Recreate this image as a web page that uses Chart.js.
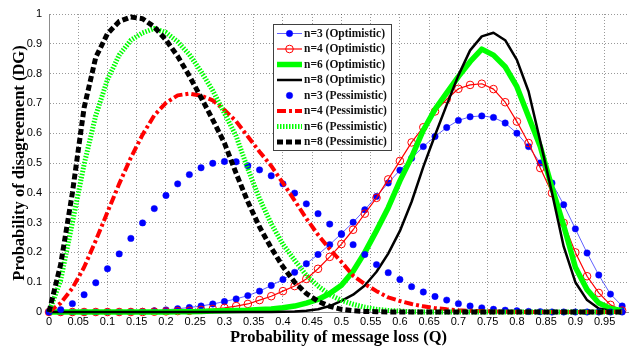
<!DOCTYPE html>
<html>
<head>
<meta charset="utf-8">
<title>Probability of disagreement</title>
<script src="https://cdn.jsdelivr.net/npm/chart.js@4.4.0/dist/chart.umd.min.js"></script>
<style>
  html, body { margin: 0; padding: 0; background: #fff; }
  #wrap { width: 633px; height: 348px; }
</style>
</head>
<body>
<div id="wrap"><canvas id="dgChart" width="633" height="348"></canvas></div>
<script>
// probability of message loss Q (one sample every 0.02)
const qValues = [0, 0.02, 0.04, 0.06, 0.08, 0.1, 0.12, 0.14, 0.16, 0.18,
  0.2, 0.22, 0.24, 0.26, 0.28, 0.3, 0.32, 0.34, 0.36, 0.38,
  0.4, 0.42, 0.44, 0.46, 0.48, 0.5, 0.52, 0.54, 0.56, 0.58,
  0.6, 0.62, 0.64, 0.66, 0.68, 0.7, 0.72, 0.74, 0.76, 0.78,
  0.8, 0.82, 0.84, 0.86, 0.88, 0.9, 0.92, 0.94, 0.96, 0.98];

// optimistic DG values
const optN3 = [0, 0, 0, 0, 0, 0, 0, 0.001, 0.002, 0.004,
  0.007, 0.011, 0.015, 0.02, 0.027, 0.035, 0.044, 0.055, 0.07, 0.089,
  0.109, 0.133, 0.162, 0.193, 0.226, 0.263, 0.301, 0.343, 0.388, 0.433,
  0.476, 0.516, 0.555, 0.589, 0.619, 0.643, 0.655, 0.658, 0.653, 0.634,
  0.6, 0.555, 0.5, 0.433, 0.36, 0.279, 0.198, 0.124, 0.06, 0.02];
const optN4 = [0, 0, 0, 0, 0, 0, 0, 0, 0, 0.001,
  0.002, 0.003, 0.004, 0.007, 0.01, 0.014, 0.02, 0.027, 0.04, 0.053,
  0.07, 0.087, 0.111, 0.145, 0.185, 0.228, 0.276, 0.33, 0.383, 0.445,
  0.507, 0.569, 0.62, 0.673, 0.714, 0.749, 0.762, 0.766, 0.748, 0.704,
  0.639, 0.567, 0.483, 0.399, 0.299, 0.2, 0.12, 0.064, 0.024, 0.005];
const optN6 = [0, 0, 0, 0, 0, 0, 0, 0, 0, 0,
  0, 0.001, 0.001, 0.002, 0.003, 0.004, 0.005, 0.006, 0.008, 0.01,
  0.014, 0.02, 0.03, 0.042, 0.062, 0.09, 0.137, 0.2, 0.273, 0.35,
  0.44, 0.52, 0.61, 0.68, 0.735, 0.79, 0.84, 0.882, 0.862, 0.823,
  0.756, 0.655, 0.555, 0.418, 0.29, 0.15, 0.075, 0.03, 0.012, 0.004];
const optN8 = [0, 0, 0, 0, 0, 0, 0, 0, 0, 0,
  0, 0, 0, 0, 0, 0, 0, 0, 0, 0,
  0.001, 0.002, 0.004, 0.009, 0.02, 0.037, 0.058, 0.089, 0.135, 0.196,
  0.272, 0.37, 0.487, 0.593, 0.695, 0.794, 0.878, 0.925, 0.937, 0.912,
  0.846, 0.74, 0.573, 0.4, 0.22, 0.1, 0.04, 0.012, 0.004, 0.001];

// pessimistic DG values
const pessN3 = [0, 0.008, 0.028, 0.058, 0.098, 0.145, 0.195, 0.247, 0.299, 0.347,
  0.391, 0.43, 0.461, 0.484, 0.499, 0.505, 0.504, 0.491, 0.477, 0.457,
  0.43, 0.399, 0.363, 0.33, 0.295, 0.26, 0.226, 0.193, 0.159, 0.132,
  0.109, 0.085, 0.067, 0.052, 0.04, 0.028, 0.02, 0.014, 0.009, 0.006,
  0.004, 0.002, 0.001, 0, 0, 0, 0, 0, 0, 0];
const pessN4 = [0, 0.03, 0.08, 0.15, 0.24, 0.335, 0.43, 0.518, 0.595, 0.66,
  0.702, 0.727, 0.733, 0.726, 0.71, 0.678, 0.64, 0.589, 0.538, 0.49,
  0.433, 0.374, 0.314, 0.259, 0.211, 0.168, 0.122, 0.094, 0.07, 0.049,
  0.037, 0.027, 0.019, 0.013, 0.009, 0.006, 0.004, 0.003, 0.002, 0.001,
  0, 0, 0, 0, 0, 0, 0, 0, 0, 0];
const pessN6 = [0, 0.107, 0.3, 0.495, 0.66, 0.78, 0.862, 0.912, 0.937, 0.951,
  0.938, 0.907, 0.864, 0.807, 0.743, 0.667, 0.59, 0.48, 0.38, 0.296,
  0.227, 0.174, 0.123, 0.087, 0.058, 0.039, 0.026, 0.016, 0.009, 0.005,
  0.003, 0.001, 0, 0, 0, 0, 0, 0, 0, 0,
  0, 0, 0, 0, 0, 0, 0, 0, 0, 0];
const pessN8 = [0, 0.16, 0.4, 0.685, 0.855, 0.934, 0.975, 0.99, 0.984, 0.957,
  0.913, 0.858, 0.792, 0.72, 0.645, 0.567, 0.465, 0.37, 0.285, 0.215,
  0.152, 0.1, 0.062, 0.036, 0.019, 0.009, 0.004, 0.002, 0.001, 0,
  0, 0, 0, 0, 0, 0, 0, 0, 0, 0,
  0, 0, 0, 0, 0, 0, 0, 0, 0, 0];

const seriesLabels = ['n=3 (Optimistic)', 'n=4 (Optimistic)', 'n=6 (Optimistic)', 'n=8 (Optimistic)',
  'n=3 (Pessimistic)', 'n=4 (Pessimistic)', 'n=6 (Pessimistic)', 'n=8 (Pessimistic)'];

// axis ticks
const xTicks = [0, 0.05, 0.1, 0.15, 0.2, 0.25, 0.3, 0.35, 0.4, 0.45, 0.5,
  0.55, 0.6, 0.65, 0.7, 0.75, 0.8, 0.85, 0.9, 0.95];
const yTicks = [0, 0.1, 0.2, 0.3, 0.4, 0.5, 0.6, 0.7, 0.8, 0.9, 1];

const toPoints = (vals) => qValues.map((q, i) => ({ x: q, y: vals[i] }));

const tickFont = { family: "'Liberation Sans Narrow', 'Liberation Sans', Arial, sans-serif", size: 11 };
const titleFont = { family: "'Liberation Serif', 'Times New Roman', serif", size: 16.5, weight: 'bold' };

// line styles, same order as seriesLabels
const styles = [
  { borderColor: 'rgba(30,30,255,0.7)', borderWidth: 1, pointRadius: 3.2, pointBackgroundColor: '#0000ff', pointBorderColor: '#0000ff', pointBorderWidth: 0.5 },
  { borderColor: '#ff0000', borderWidth: 1.2, pointRadius: 3.8, pointBackgroundColor: 'rgba(255,255,255,0)', pointBorderColor: '#ff0000', pointBorderWidth: 1 },
  { borderColor: '#00ff00', borderWidth: 5.5, pointRadius: 0 },
  { borderColor: '#000000', borderWidth: 2.5, pointRadius: 0 },
  { showLine: false, borderColor: '#0000ff', borderWidth: 0, pointRadius: 3.2, pointBackgroundColor: '#0000ff', pointBorderColor: '#0000ff', pointBorderWidth: 0.5 },
  { borderColor: '#ff0000', borderWidth: 4, pointRadius: 0, borderDash: [9, 3, 3, 3] },
  { borderColor: '#00ff00', borderWidth: 5, pointRadius: 0, borderDash: [1.5, 1.5] },
  { borderColor: '#000000', borderWidth: 5, pointRadius: 0, borderDash: [6, 3] }
];

const allSeries = [optN3, optN4, optN6, optN8, pessN3, pessN4, pessN6, pessN8];

const datasets = allSeries.map((vals, i) => Object.assign({
  label: seriesLabels[i],
  data: toPoints(vals),
  tension: 0,
  fill: false,
  clip: false,
  borderJoinStyle: 'round',
  order: allSeries.length - i
}, styles[i]));

// boxed legend drawn inside the plot, like the original figure
const boxLegend = {
  id: 'boxLegend',
  afterDraw(chart) {
    const ctx = chart.ctx;
    const x0 = 273, y0 = 24, w = 118, h = 126;
    ctx.save();
    ctx.fillStyle = '#ffffff';
    ctx.fillRect(x0, y0, w, h);
    ctx.strokeStyle = '#404040';
    ctx.lineWidth = 1;
    ctx.strokeRect(x0 + 0.5, y0 + 0.5, w, h);
    ctx.font = "bold 11.5px 'Liberation Serif', 'Times New Roman', serif";
    ctx.textBaseline = 'middle';
    ctx.textAlign = 'left';
    chart.data.datasets.forEach((ds, i) => {
      const y = y0 + 9.5 + i * 15.5;
      if (ds.showLine !== false) {
        ctx.setLineDash(ds.borderDash || []);
        ctx.strokeStyle = ds.borderColor;
        ctx.lineWidth = ds.borderWidth;
        ctx.beginPath();
        ctx.moveTo(x0 + 4, y);
        ctx.lineTo(x0 + 29, y);
        ctx.stroke();
        ctx.setLineDash([]);
      }
      if (ds.pointRadius > 0) {
        ctx.beginPath();
        ctx.arc(x0 + 16.5, y, ds.pointRadius, 0, Math.PI * 2);
        ctx.fillStyle = ds.pointBackgroundColor;
        ctx.fill();
        ctx.lineWidth = ds.pointBorderWidth;
        ctx.strokeStyle = ds.pointBorderColor;
        ctx.stroke();
      }
      ctx.fillStyle = '#111';
      ctx.fillText(ds.label, x0 + 31, y + 0.5);
    });
    ctx.restore();
  }
};

const ctx = document.getElementById('dgChart').getContext('2d');

const dgChart = new Chart(ctx, {
  type: 'line',
  data: { datasets: datasets },
  options: {
    responsive: false,
    animation: false,
    events: [],
    layout: { padding: { top: 14, right: 0, bottom: 0, left: 0 } },
    plugins: {
      legend: { display: false },
      tooltip: { enabled: false }
    },
    scales: {
      x: {
        type: 'linear',
        min: 0,
        max: 0.99,
        afterFit: (s) => { s.height = 36; },
        afterBuildTicks: (s) => { s.ticks = xTicks.map(v => ({ value: v })); },
        ticks: {
          color: '#000',
          font: tickFont,
          padding: 3,
          maxRotation: 0,
          autoSkip: false,
          callback: (v) => String(v)
        },
        grid: { color: 'rgba(0,0,0,0.4)', drawTicks: false },
        border: { display: true, color: '#8c8c8c', width: 1, dash: [1, 2] },
        title: {
          display: true,
          text: 'Probability of message loss (Q)',
          color: '#000',
          font: titleFont,
          padding: { top: 0, bottom: 0 }
        }
      },
      y: {
        type: 'linear',
        min: 0,
        max: 1,
        afterFit: (s) => { s.width = 49; },
        afterBuildTicks: (s) => { s.ticks = yTicks.map(v => ({ value: v })); },
        ticks: {
          color: '#000',
          font: tickFont,
          padding: 7,
          autoSkip: false,
          callback: (v) => String(v)
        },
        grid: { color: 'rgba(0,0,0,0.4)', drawTicks: false },
        border: { display: true, color: '#8c8c8c', width: 1, dash: [1, 2] },
        title: {
          display: true,
          text: 'Probability of disagreement (DG)',
          color: '#000',
          font: titleFont,
          padding: { top: 10, bottom: 0 }
        }
      }
    }
  },
  plugins: [boxLegend]
});
</script>
</body>
</html>
